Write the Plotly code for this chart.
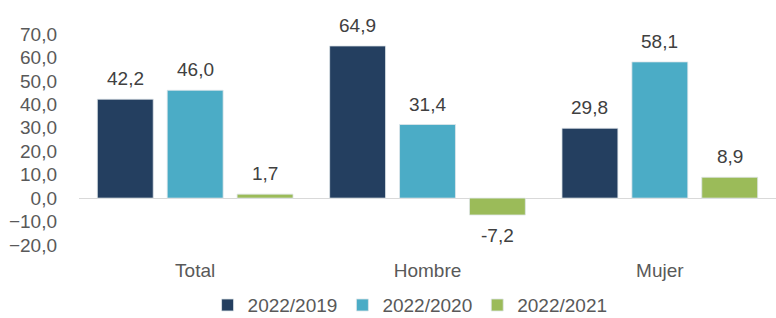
import plotly.graph_objects as go

categories = ["Total", "Hombre", "Mujer"]
series_names = ["2022/2019", "2022/2020", "2022/2021"]
v2019 = [42.2, 64.9, 29.8]
v2020 = [46.0, 31.4, 58.1]
v2021 = [1.7, -7.2, 8.9]
tick_vals = [-20, -10, 0, 10, 20, 30, 40, 50, 60, 70]

colors = ["#243F60", "#4BACC6", "#9BBB59"]
FONT = "Liberation Sans, Arial, sans-serif"
FS = 19

def fmt(v):
    return f"{v:.1f}".replace(".", ",")

W, H = 776, 318
ML, MR, MT, MB = 79, 0, 34, 73
BARGAP, GROUPGAP = 0.0975, 0.2

fig = go.Figure()
all_series = [v2019, v2020, v2021]
for name, vals, c in zip(series_names, all_series, colors):
    fig.add_trace(go.Bar(
        x=categories, y=vals, name=name,
        marker=dict(color=c, line=dict(color="#dfe6ea", width=0.8)),
        cliponaxis=False,
    ))

# value labels placed through axis coordinates
cat_w = (W - ML - MR) / len(categories)
slot = cat_w * (1 - BARGAP) / len(all_series)
for i, vals in enumerate(all_series):
    xs = (i - (len(all_series) - 1) / 2) * slot
    for cat, v in zip(categories, vals):
        fig.add_annotation(
            x=cat, y=v, xref="x", yref="y", text=fmt(v), showarrow=False,
            xshift=xs, yanchor="bottom" if v >= 0 else "top",
            yshift=8 if v >= 0 else -8,
            font=dict(family=FONT, size=FS, color="#404040"),
        )

fig.update_layout(
    width=W, height=H,
    margin=dict(l=ML, r=MR, t=MT, b=MB, autoexpand=False),
    paper_bgcolor="white", plot_bgcolor="white",
    barmode="group", bargap=BARGAP, bargroupgap=GROUPGAP,
    separators=",.",
    font=dict(family=FONT, size=FS, color="#595959"),
    showlegend=True,
    legend=dict(orientation="h", x=0.475, xanchor="center", y=-0.285, yanchor="middle",
                font=dict(size=FS, color="#595959"), itemwidth=30, traceorder="normal"),
    xaxis=dict(showgrid=False, showline=False, ticks="", ticklabelstandoff=12,
               automargin=False, tickfont=dict(size=FS, color="#595959")),
    yaxis=dict(range=[-20, 70], tickvals=tick_vals, tickformat=".1f",
               showgrid=False, zeroline=True, zerolinecolor="#d9d9d9", zerolinewidth=1,
               showline=False, ticks="", ticklabelstandoff=21, automargin=False,
               tickfont=dict(size=FS, color="#595959")),
)

fig.write_html("out.html", config={"displayModeBar": False},
               post_script="document.body.style.margin='0px';")
